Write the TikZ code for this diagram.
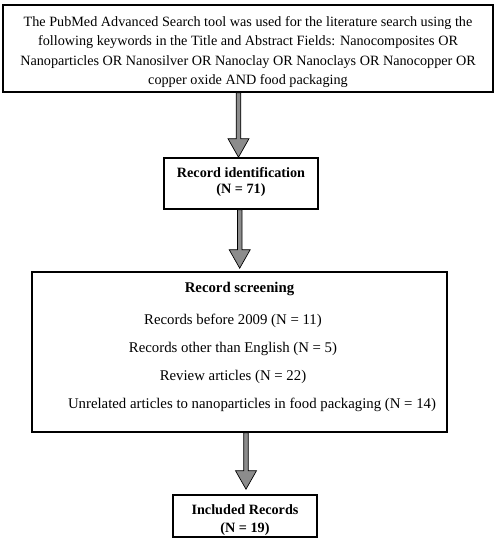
\documentclass[tikz,border=0pt]{standalone}
\usepackage{fontspec}
\setmainfont{Liberation Serif}
\usetikzlibrary{calc}
\tikzstyle{box}=[draw=black,line width=1.6pt,fill=white,inner sep=0pt]
\tikzstyle{txt}=[inner sep=0pt,align=center]
\tikzstyle{blockarrow}=[draw=black,line width=0.7pt,fill=gray!90,
  to path={let \p1=(\tikztostart), \p2=(\tikztotarget) in
    (\x1-2.3pt,\y1) -- (\x1-2.3pt,\y2+18.5pt) -- (\x1-10.5pt,\y2+18.5pt) -- (\x1,\y2)
    -- (\x1+10.5pt,\y2+18.5pt) -- (\x1+2.3pt,\y2+18.5pt) -- (\x1+2.3pt,\y1) -- cycle}]

\begin{document}
\begin{tikzpicture}[x=1pt,y=-1pt,font=\fontsize{14.2}{19.3}\selectfont]
    \useasboundingbox (0,0) rectangle (498,550);

    % boxes
    \node[box,minimum width=490pt,minimum height=87pt] (search) at (248,48.5) {};
    \node[box,minimum width=154pt,minimum height=51pt] (ident) at (241,183.5) {};
    \node[box,minimum width=415pt,minimum height=160pt] (screen) at (239.5,352) {};
    \node[box,minimum width=144pt,minimum height=42pt] (incl) at (245,516) {};

    % texts
    \node[txt] (searchtxt) at (248,52)
        {The PubMed Advanced Search tool was used for the literature search using the\\
         following keywords in the Title and Abstract Fields: Nanocomposites OR\\
         Nanoparticles OR Nanosilver OR Nanoclay OR Nanoclays OR Nanocopper OR\\
         copper oxide AND food packaging};
    \node[txt,font=\fontsize{14.2}{16.5}\selectfont\bfseries] (identtxt) at (241,182)
        {Record identification\\(N = 71)};
    \node[txt,font=\fontsize{14.8}{17}\selectfont] (screentxt) at (233,346.5)
        {\hspace*{13pt}\textbf{Record screening}\\[15pt]
         Records before 2009 (N = 11)\\[11pt]
         Records other than English (N = 5)\\[11pt]
         Review articles (N = 22)\\[11pt]
         \hspace*{38pt}Unrelated articles to nanoparticles in food packaging (N = 14)};
    \node[txt,font=\fontsize{14.2}{18}\selectfont\bfseries] (incltxt) at (245,520)
        {Included Records\\(N = 19)};

    % arrows
    \draw[blockarrow] ([xshift=-9.5pt]search.south) to (ident.north);
    \draw[blockarrow] ([xshift=-1.3pt]ident.south) to ([yshift=3pt]screen.north);
    \draw[blockarrow] ([xshift=6.5pt]screen.south) to ([yshift=5pt]incl.north);

\end{tikzpicture}
\end{document}
